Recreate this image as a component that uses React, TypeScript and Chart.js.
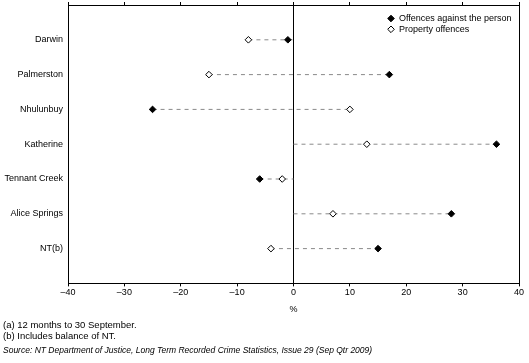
import React, { useEffect, useRef } from "react";
import { Chart, registerables } from "chart.js";
import { drawPoint } from "chart.js/helpers";

Chart.register(...registerables);

const categories = [
  "Darwin",
  "Palmerston",
  "Nhulunbuy",
  "Katherine",
  "Tennant Creek",
  "Alice Springs",
  "NT(b)",
];
const personValues = [-1, 17, -25, 36, -6, 28, 15];
const propertyValues = [-8, -15, 10, 13, -2, 7, -4];
const seriesLabels = ["Offences against the person", "Property offences"];
const xMin = -40;
const xMax = 40;
const xStep = 10;
const xTitle = "%";
const footnotes = ["(a) 12 months to 30 September.", "(b) Includes balance of NT."];
const sourceText =
  "Source: NT Department of Justice, Long Term Recorded Crime Statistics, Issue 29 (Sep Qtr 2009)";

const FONT = '"Liberation Sans", Arial, sans-serif';

const insideLegend = {
  id: "insideLegend",
  afterDraw(chart: any) {
    const { ctx, chartArea } = chart;
    const ds = chart.data.datasets;
    const x0 = chartArea.right - 128;
    ctx.save();
    ctx.font = `9px ${FONT}`;
    ctx.textBaseline = "middle";
    ctx.textAlign = "left";
    [0, 1].forEach((i) => {
      const y = chartArea.top + 13.5 + i * 10.8;
      ctx.fillStyle = ds[i].backgroundColor;
      ctx.strokeStyle = ds[i].borderColor;
      ctx.lineWidth = 1;
      drawPoint(ctx, { pointStyle: "rectRot", radius: 3.3, borderWidth: 1 } as any, x0, y);
      ctx.fillStyle = "#000";
      ctx.fillText(ds[i].label, x0 + 8, y);
    });
    ctx.restore();
  },
};

export default function App() {
  const ref = useRef<HTMLCanvasElement | null>(null);

  useEffect(() => {
    if (!ref.current) return;
    const rows = categories.map((_, i) => i + 1);
    const connectors = categories.map((c, i) => ({
      type: "line",
      label: c,
      data: [
        { x: Math.min(0, personValues[i], propertyValues[i]), y: rows[i] },
        { x: Math.max(0, personValues[i], propertyValues[i]), y: rows[i] },
      ],
      showLine: true,
      borderColor: "#8a8a8a",
      borderWidth: 1,
      borderDash: [4, 4],
      pointRadius: 0,
      fill: false,
    }));
    const chart = new Chart(ref.current, {
      type: "scatter",
      data: {
        datasets: [
          {
            label: seriesLabels[0],
            data: personValues.map((v, i) => ({ x: v, y: rows[i] })),
            pointStyle: "rectRot",
            pointRadius: 3.3,
            pointHoverRadius: 3.3,
            backgroundColor: "#000000",
            borderColor: "#000000",
            borderWidth: 1,
          },
          {
            label: seriesLabels[1],
            data: propertyValues.map((v, i) => ({ x: v, y: rows[i] })),
            pointStyle: "rectRot",
            pointRadius: 3.3,
            pointHoverRadius: 3.3,
            backgroundColor: "#ffffff",
            borderColor: "#000000",
            borderWidth: 1,
          },
          ...connectors,
        ] as any,
      },
      options: {
        animation: false,
        responsive: false,
        devicePixelRatio: 1,
        layout: { padding: { top: 2, left: 3, right: 10, bottom: 7 } },
        plugins: {
          legend: { display: false },
          tooltip: { enabled: false },
          title: {
            display: true,
            position: "bottom",
            align: "start",
            text: sourceText,
            color: "#000",
            font: { family: FONT, size: 8.5, style: "italic", weight: "normal", lineHeight: 1.2 },
            padding: { top: 3.5, bottom: 0 },
          },
          subtitle: {
            display: true,
            position: "bottom",
            align: "start",
            text: footnotes,
            color: "#000",
            font: { family: FONT, size: 9.5, weight: "normal", lineHeight: 1.2 },
            padding: { top: 4.5, bottom: 0 },
          },
        },
        scales: {
          x: {
            type: "linear",
            position: "bottom",
            min: xMin,
            max: xMax,
            ticks: {
              stepSize: xStep,
              color: "#000",
              padding: 1,
              font: { family: FONT, size: 9 },
              callback: (v: any) => (Number(v) < 0 ? "\u2013" + Math.abs(Number(v)) : String(v)),
            },
            grid: {
              color: (c: any) =>
                c.tick && (c.tick.value === 0 || Math.abs(c.tick.value) === xMax) ? "#000" : "rgba(0,0,0,0)",
              tickColor: "#000",
              tickLength: 3,
              lineWidth: 1,
            },
            border: { display: true, color: "#000", width: 1 },
            title: {
              display: true,
              text: xTitle,
              color: "#000",
              font: { family: FONT, size: 9 },
              padding: { top: 5, bottom: 0 },
            },
          },
          x2: {
            type: "linear",
            position: "top",
            min: xMin,
            max: xMax,
            ticks: { display: false, stepSize: xStep },
            grid: { drawOnChartArea: false, tickColor: "#000", tickLength: 3 },
            border: { display: true, color: "#000", width: 1 },
          },
          y: {
            type: "linear",
            min: 0,
            max: categories.length + 1,
            reverse: true,
            afterFit: (s: any) => {
              s.width = 65;
              s.paddingTop = 0;
              s.paddingBottom = 0;
            },
            ticks: {
              stepSize: 1,
              autoSkip: false,
              color: "#000",
              padding: 5,
              font: { family: FONT, size: 9 },
              callback: (v: any) => {
                const n = Number(v);
                return n >= 1 && n <= categories.length ? categories[n - 1] : null;
              },
            },
            grid: { drawOnChartArea: false, drawTicks: false },
            border: { display: true, color: "#000", width: 1 },
          },
        },
      } as any,
      plugins: [insideLegend],
    });
    return () => chart.destroy();
  }, []);

  return (
    <div style={{ position: "absolute", left: 0, top: 0, width: 529, height: 363, background: "#fff" }}>
      <canvas ref={ref} width={529} height={363} style={{ display: "block" }} />
    </div>
  );
}
